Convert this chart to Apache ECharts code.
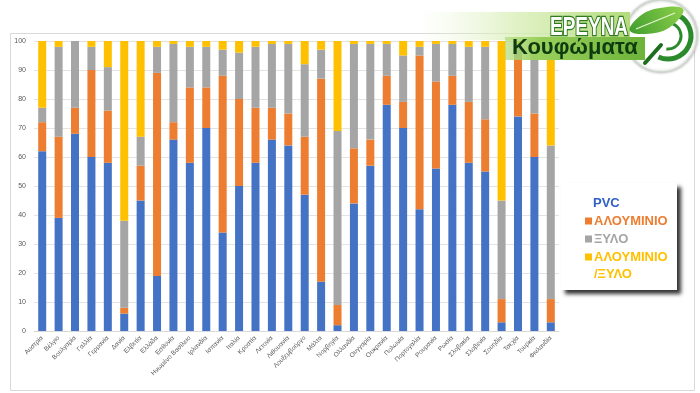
<!DOCTYPE html>
<html>
<head>
<meta charset="utf-8">
<script src="https://cdn.jsdelivr.net/npm/echarts@6/dist/echarts.min.js"></script>
<style>
html,body{margin:0;padding:0;background:#fff;}
#chart{width:700px;height:393px;}
</style>
</head>
<body>
<div id="chart"></div>
<script>
var categories = ['Αυστρία','Βέλγιο','Βουλγαρία','Γαλλία','Γερμανία','Δανία','Ελβετία','Ελλάδα','Εσθονία','Ηνωμένο Βασίλειο','Ιρλανδία','Ισπανία','Ιταλία','Κροατία','Λετονία','Λιθουανία','Λουξεμβούργο','Μάλτα','Νορβηγία','Ολλανδία','Ουγγαρία','Ουκρανία','Πολωνία','Πορτογαλία','Ρουμανία','Ρωσία','Σλοβακία','Σλοβενία','Σουηδία','Τσεχία','Τουρκία','Φινλανδία'];
var pvc     = [62,39,68,60,58, 6,45,19,66,58,70,34,50,58,66,64,47,17, 2,44,57,78,70,42,56,78,58,55, 3,74,60, 3];
var alu     = [10,28, 9,30,18, 2,12,70, 6,26,14,54,30,19,11,11,20,70, 7,19, 9,10, 9,53,30,10,21,18, 8,20,15, 8];
var wood    = [ 5,31,23, 8,15,30,10, 9,27,14,14, 9,16,21,22,24,25,10,60,36,33,11,16, 3,13,11,19,25,34, 5,22,53];
var aluWood = [23, 2, 0, 2, 9,62,33, 2, 1, 2, 2, 3, 4, 2, 1, 1, 8, 3,31, 1, 1, 1, 5, 2, 1, 1, 2, 2,55, 1, 3,36];
var yTicks = [0,10,20,30,40,50,60,70,80,90,100];
var seriesNames = ['PVC','ΑΛΟΥΜΙΝΙΟ','ΞΥΛΟ','ΑΛΟΥΜΙΝΙΟ/ΞΥΛΟ'];
var colors = ['#4472C4','#ED7D31','#A5A5A5','#FFC000'];
var legendTextColors = ['#2F5FC7','#ED7D31','#A5A5A5','#FFC000'];

var chart = echarts.init(document.getElementById('chart'));
var values = [pvc, alu, wood, aluWood];
var series = values.map(function(v, i){
  return {
    name: seriesNames[i], type: 'bar', stack: 'total', barWidth: 8,
    data: v, itemStyle: {color: colors[i]}, z: 2
  };
});

// legend box (drawn as graphic for exact Excel-like layout)
var lgFont = {fontFamily: 'Liberation Sans', fontWeight: 'bold', fontSize: 13};
function lgText(t, x, y, c){
  return {type: 'text', z: 50, silent: true, x: x, y: y,
    style: Object.assign({text: t, fill: c, verticalAlign: 'middle', align: 'left'}, lgFont)};
}
function lgSq(y, c){
  return {type: 'rect', z: 50, silent: true, shape: {x: 585, y: y - 3.5, width: 7, height: 7}, style: {fill: c}};
}
var legendGraphic = [
  {type: 'rect', z: 49, silent: true, shape: {x: 561, y: 183, width: 116, height: 107},
   style: {fill: '#ffffff', shadowColor: 'rgba(0,0,0,0.8)', shadowBlur: 4, shadowOffsetX: 4, shadowOffsetY: 4}},
  lgText(seriesNames[0], 593, 203, legendTextColors[0]),
  lgSq(221, colors[1]), lgText(seriesNames[1], 594, 221, legendTextColors[1]),
  lgSq(239, colors[2]), lgText(seriesNames[2], 594, 239, legendTextColors[2]),
  lgSq(257, colors[3]), lgText('ΑΛΟΥΜΙΝΙΟ', 594, 257, legendTextColors[3]),
  lgText('/ΞΥΛΟ', 594, 274, legendTextColors[3])
];

var logoGraphic = [
  {type: 'circle', z: 99, silent: true, shape: {cx: 661, cy: 36, r: 36},
   style: {fill: '#ffffff', stroke: '#cfd8cf', lineWidth: 1.5, shadowBlur: 3, shadowColor: 'rgba(0,0,0,0.3)'}},
  {type: 'rect', z: 100, silent: true, shape: {x: 420, y: 12, width: 210, height: 28},
   style: {fill: new echarts.graphic.LinearGradient(0,0,1,0,[
     {offset: 0, color: 'rgba(230,245,210,0)'},
     {offset: 0.45, color: 'rgba(215,238,180,0.75)'},
     {offset: 1, color: '#b3db7c'}])}},
  {type: 'rect', z: 100, silent: true, shape: {x: 505, y: 37, width: 140, height: 23},
   style: {fill: new echarts.graphic.LinearGradient(0,0,1,0,[
     {offset: 0, color: 'rgba(170,215,110,0.6)'},
     {offset: 0.25, color: '#98cf5a'},
     {offset: 1, color: '#6db33a'}])}},
  {type: 'text', z: 101, silent: true, x: 550, y: 15, scaleX: 0.73,
   style: {text: 'ΕΡΕΥΝΑ', fontFamily: 'Liberation Sans', fontWeight: 'bold', fontSize: 26,
     fill: '#ffffff', stroke: '#2f7a1c', lineWidth: 2.5}},
  {type: 'text', z: 101, silent: true, x: 512, y: 37,
   style: {text: 'Κουφώματα', fontFamily: 'Liberation Sans', fontWeight: 'bold', fontSize: 22,
     fill: '#0e3a10'}},
  {type: 'arc', z: 103, silent: true, shape: {cx: 668, cy: 36, r: 23, startAngle: -1.9, endAngle: 2.0},
   style: {stroke: '#2b8a2b', lineWidth: 5, fill: 'none'}},
  {type: 'arc', z: 103, silent: true, shape: {cx: 668, cy: 36, r: 13, startAngle: -1.2, endAngle: 1.7},
   style: {stroke: '#2b8a2b', lineWidth: 3, fill: 'none'}},
  {type: 'line', z: 103, silent: true, shape: {x1: 661, y1: 45, x2: 645, y2: 63},
   style: {stroke: '#1f6e1f', lineWidth: 4, lineCap: 'round'}},
  {type: 'polygon', z: 104, silent: true,
   shape: {points: [[630,31],[640,16],[660,8],[683,9],[674,24],[655,33]], smooth: 0.4},
   style: {fill: new echarts.graphic.LinearGradient(0,1,1,0,[
     {offset: 0, color: '#3f9e2e'}, {offset: 1, color: '#8fd04a'}])}},
  {type: 'line', z: 105, silent: true, shape: {x1: 636, y1: 29, x2: 675, y2: 13},
   style: {stroke: '#e8f5d8', lineWidth: 1.2}}
];

var option = {
  backgroundColor: '#fff',
  animation: false,
  grid: {left: 34, right: 141, top: 41, bottom: 62},
  xAxis: {
    type: 'category', data: categories,
    axisLine: {lineStyle: {color: '#d9d9d9'}},
    axisTick: {show: false},
    axisLabel: {rotate: 45, interval: 0, fontSize: 6.5, color: '#595959', fontFamily: 'Liberation Sans', margin: 6}
  },
  yAxis: {
    type: 'value', min: yTicks[0], max: yTicks[yTicks.length-1], interval: 10,
    axisLine: {show: false}, axisTick: {show: false},
    splitLine: {lineStyle: {color: '#e3e3e3'}},
    axisLabel: {fontSize: 7, color: '#595959', fontFamily: 'Liberation Sans', margin: 8}
  },
  graphic: [
    {type: 'rect', z: -1, silent: true, shape: {x: 10.5, y: 33.5, width: 684, height: 357},
     style: {fill: 'none', stroke: '#d9d9d9', lineWidth: 1}}
  ].concat(legendGraphic, logoGraphic),
  series: series
};
chart.setOption(option);
</script>
</body>
</html>
